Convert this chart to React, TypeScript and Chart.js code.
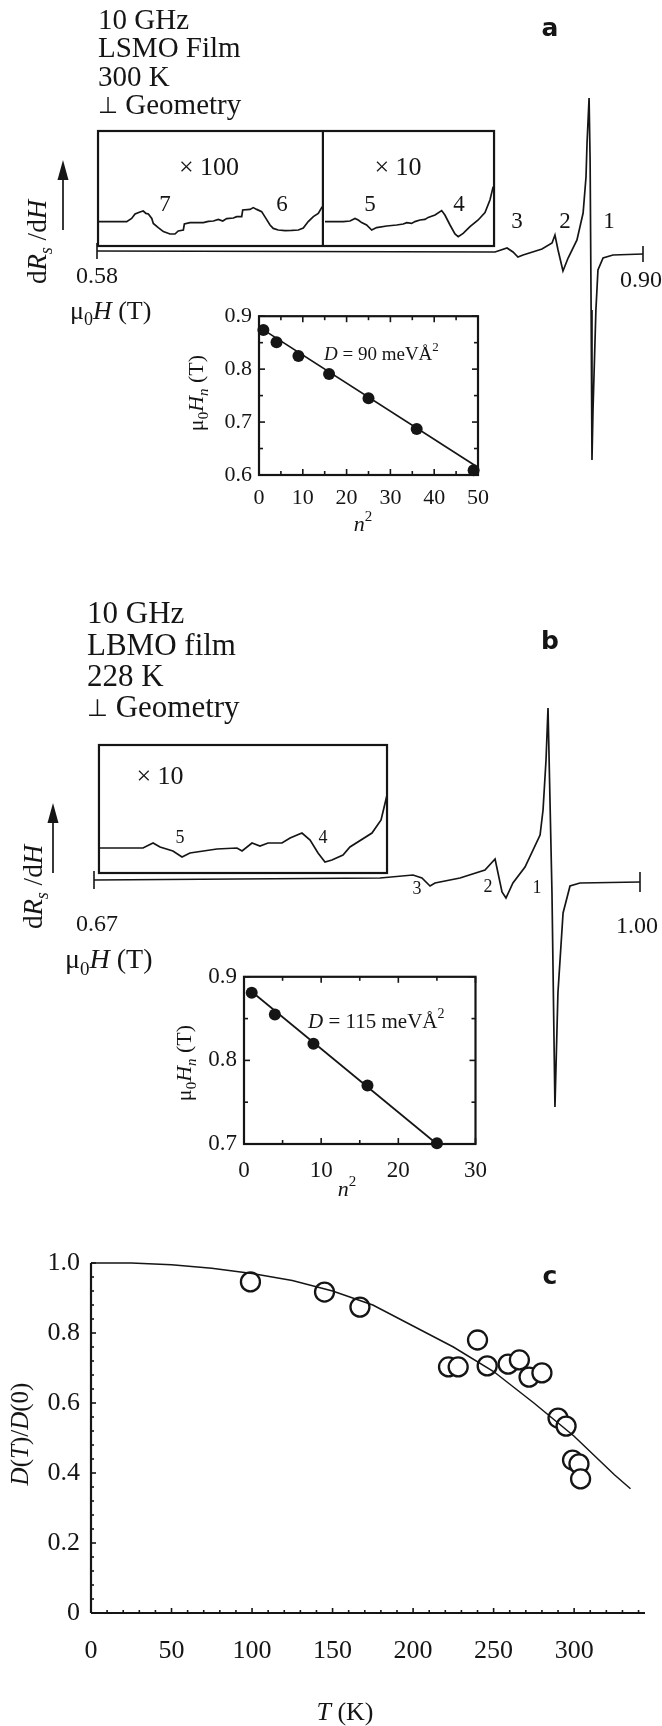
import React, { useEffect, useRef } from 'react';
import { Chart, registerables } from 'chart.js';

Chart.register(...registerables);

// ---------------- Panel a: 10 GHz, LSMO film, 300 K ----------------
const aField = [0.58, 0.8133, 0.8203, 0.8238, 0.8267, 0.8297, 0.8408, 0.8467, 0.8484, 0.8502, 0.8531, 0.8561, 0.8613, 0.8649, 0.8666, 0.8672, 0.8684, 0.869, 0.8696, 0.8701, 0.8707, 0.8724, 0.8736, 0.8766, 0.8824, 0.9];
const aSignal = [0, -0.5, 1.5, -0.5, -3, -2, 1, 4, 8, 0.5, -10, -3.5, 5.5, 19, 37, 54, 76.5, 45.5, -29.5, -104.5, -79.5, -29.5, -9.5, -3.5, -2, -1.5];
const aX100Field = [0.5802, 0.5974, 0.6003, 0.6023, 0.6052, 0.6071, 0.6087, 0.6101, 0.6121, 0.613, 0.6159, 0.6189, 0.6228, 0.6257, 0.6276, 0.6306, 0.6312, 0.6345, 0.6423, 0.6452, 0.6482, 0.6511, 0.6537, 0.656, 0.6599, 0.6619, 0.6648, 0.6654, 0.6697, 0.6716, 0.6736, 0.6765, 0.679, 0.6814, 0.6833, 0.6862, 0.6902, 0.6941, 0.698, 0.7009, 0.7038, 0.7068, 0.7097, 0.712];
const aX100Signal = [14.7, 14.7, 16.3, 18.5, 19.5, 20, 18.8, 18.5, 16.3, 13.8, 11.7, 9.7, 8.5, 8.5, 10, 10.5, 13.5, 14.2, 14.2, 14.8, 15, 15.8, 15, 16.2, 16.5, 17.2, 17.2, 20.5, 20.8, 21.7, 20.8, 19.7, 16.3, 13, 11.3, 10.5, 10.2, 10.3, 10.5, 11.5, 14.7, 17.2, 18.8, 22.2];
const aX10Field = [0.7136, 0.7243, 0.7283, 0.7312, 0.7331, 0.7351, 0.738, 0.741, 0.7439, 0.7498, 0.7556, 0.7595, 0.7615, 0.7644, 0.7663, 0.7693, 0.7722, 0.7741, 0.7781, 0.782, 0.7839, 0.7869, 0.7898, 0.7917, 0.7946, 0.7986, 0.8034, 0.8074, 0.8103, 0.8122];
const aX10Signal = [14.7, 14.7, 15, 16.3, 15.5, 14.2, 13, 10.5, 11.7, 12.5, 13, 13.5, 14.2, 13.8, 14.7, 15.5, 15.8, 16.8, 18, 20.2, 18, 13, 8.5, 7.2, 8.8, 12.2, 15.5, 19.2, 25.5, 32.2];
const aBox = { from: 0.5806, split: 0.7124, to: 0.8127, low: 2.5, high: 60 };

const aN2 = [1, 4, 9, 16, 25, 36, 49];
const aHn = [0.874, 0.851, 0.825, 0.791, 0.745, 0.687, 0.609];
const aFitN2 = [0.5, 49.5];
const aFitHn = [0.877, 0.617];
const aXTicks = [0, 10, 20, 30, 40, 50];
const aYTicks = [0.6, 0.7, 0.8, 0.9];

// ---------------- Panel b: 10 GHz, LBMO film, 228 K ----------------
const bField = [0.67, 0.8429, 0.8628, 0.8682, 0.8731, 0.8761, 0.8912, 0.9063, 0.9124, 0.9166, 0.919, 0.9232, 0.9305, 0.9396, 0.9414, 0.9432, 0.9444, 0.9468, 0.9486, 0.9504, 0.9535, 0.9577, 0.9637, 1.0];
const bSignal = [0, 1, 2.5, 1, -3, -1.5, 1, 5, 10.5, -6, -9, -1.5, 6.5, 22.5, 35, 60, 86, -6.5, -113.5, -56.5, -16.5, -3, -1.5, -1];
const bX10Field = [0.673, 0.6996, 0.7057, 0.7099, 0.7177, 0.7232, 0.728, 0.7443, 0.7564, 0.7595, 0.7655, 0.7703, 0.7752, 0.7836, 0.7885, 0.7957, 0.8006, 0.8054, 0.8096, 0.8138, 0.8205, 0.8247, 0.838, 0.8435, 0.8471];
const bX10Signal = [16, 16, 18.5, 16.5, 14.5, 11.5, 13.5, 15.5, 16, 14.5, 18.5, 17, 18.5, 18.5, 21, 23.5, 20, 13.5, 9, 10, 12.5, 16.5, 23.5, 30, 42.5];
const bBox = { from: 0.673, to: 0.8471, low: 3.5, high: 67.5 };

const bN2 = [1, 4, 9, 16, 25];
const bHn = [0.881, 0.855, 0.82, 0.77, 0.701];
const bFitN2 = [0.5, 25];
const bFitHn = [0.886, 0.7];
const bXTicks = [0, 10, 20, 30];
const bYTicks = [0.7, 0.8, 0.9];

// ---------------- Panel c: D(T)/D(0) ----------------
const cTemp = [99, 145, 167, 222, 228, 240, 246, 259, 266, 272, 280, 290, 295, 299, 303, 304];
const cRatio = [0.946, 0.917, 0.874, 0.703, 0.703, 0.78, 0.706, 0.711, 0.723, 0.674, 0.686, 0.557, 0.534, 0.437, 0.426, 0.383];
const cCurveT = [0, 25, 50, 75, 100, 125, 150, 175, 200, 225, 250, 275, 300, 325, 335];
const cCurveD = [1.0, 1.0, 0.995, 0.985, 0.97, 0.95, 0.92, 0.88, 0.82, 0.76, 0.69, 0.6, 0.505, 0.395, 0.355];
const cXTicks = [0, 50, 100, 150, 200, 250, 300];
const cYTicks = [0, 0.2, 0.4, 0.6, 0.8, 1.0];

// ---------------- helpers ----------------
const SERIF = '"Liberation Serif", "Times New Roman", "DejaVu Serif", serif';
const SYMBOL = '"DejaVu Sans", "DejaVu Serif", sans-serif';
const INK = '#151515';

type Part = { t: string; it?: boolean; sub?: boolean; sup?: boolean; k?: number; sym?: boolean };

const zip = (xs: number[], ys: number[]) => xs.map((x, i) => ({ x, y: ys[i] }));

function fontOf(p: Part, size: number) {
  let s = p.sub || p.sup ? size * 0.68 : size;
  if (p.k) s *= p.k;
  return `${p.it ? 'italic ' : ''}${Math.round(s)}px ${p.sym ? SYMBOL : SERIF}`;
}

function rich(ctx: CanvasRenderingContext2D, parts: Part[], x: number, y: number, size: number, align: 'left' | 'center' | 'right' = 'left', rot = 0) {
  ctx.save();
  ctx.translate(x, y);
  if (rot) ctx.rotate(rot);
  const widths = parts.map((p) => {
    ctx.font = fontOf(p, size);
    return ctx.measureText(p.t).width;
  });
  const total = widths.reduce((a, b) => a + b, 0);
  let cx = align === 'left' ? 0 : align === 'center' ? -total / 2 : -total;
  ctx.textBaseline = 'middle';
  ctx.textAlign = 'left';
  ctx.fillStyle = INK;
  parts.forEach((p, i) => {
    ctx.font = fontOf(p, size);
    const dy = p.sub ? size * 0.32 : p.sup ? -size * 0.38 : p.sym ? size * 0.04 : 0;
    ctx.fillText(p.t, cx, dy);
    cx += widths[i];
  });
  ctx.restore();
}

function text(ctx: CanvasRenderingContext2D, s: string, x: number, y: number, size: number, align: 'left' | 'center' | 'right' = 'left') {
  rich(ctx, [{ t: s }], x, y, size, align);
}

function geometry(ctx: CanvasRenderingContext2D, x: number, y: number, size: number) {
  rich(ctx, [{ t: '⊥', sym: true, k: 0.78 }, { t: ' Geometry' }], x, y, size, 'left');
}

function bold(ctx: CanvasRenderingContext2D, s: string, x: number, y: number) {
  ctx.save();
  ctx.font = 'bold 25px "DejaVu Sans", sans-serif';
  ctx.fillStyle = INK;
  ctx.textAlign = 'center';
  ctx.textBaseline = 'middle';
  ctx.fillText(s, x, y);
  ctx.restore();
}

function seg(ctx: CanvasRenderingContext2D, x0: number, y0: number, x1: number, y1: number) {
  ctx.beginPath();
  ctx.moveTo(x0, y0);
  ctx.lineTo(x1, y1);
  ctx.stroke();
}

function arrow(ctx: CanvasRenderingContext2D, x: number, yBottom: number, yTip: number) {
  ctx.save();
  ctx.strokeStyle = INK;
  ctx.fillStyle = INK;
  ctx.lineWidth = 1.7;
  seg(ctx, x, yBottom, x, yTip + 12);
  ctx.beginPath();
  ctx.moveTo(x, yTip);
  ctx.lineTo(x - 5.5, yTip + 20);
  ctx.lineTo(x + 5.5, yTip + 20);
  ctx.closePath();
  ctx.fill();
  ctx.restore();
}

const dRdH: Part[] = [{ t: 'd' }, { t: 'R', it: true }, { t: 's', it: true, sub: true }, { t: ' /d' }, { t: 'H', it: true }];
const mu0H: Part[] = [{ t: 'μ' }, { t: '0', sub: true }, { t: 'H', it: true }, { t: ' (T)' }];
const mu0Hn: Part[] = [{ t: 'μ' }, { t: '0', sub: true }, { t: 'H', it: true }, { t: 'n', it: true, sub: true }, { t: ' (T)' }];
const n2: Part[] = [{ t: 'n', it: true }, { t: '2', sup: true }];

function traceDataset(data: { x: number; y: number }[], width = 1.7) {
  return { data, showLine: true, borderColor: INK, borderWidth: width, pointRadius: 0, tension: 0, clip: false } as any;
}

function baseOptions(pad: any, scales: any) {
  return {
    animation: false,
    responsive: false,
    devicePixelRatio: 1,
    events: [],
    layout: { padding: pad },
    plugins: { legend: { display: false }, tooltip: { enabled: false }, title: { display: false } },
    scales,
  } as any;
}

// ---------------- chart configs ----------------
function mainAConfig() {
  const deco = {
    id: 'decoA',
    afterDraw(chart: any) {
      const ctx: CanvasRenderingContext2D = chart.ctx;
      const xs = chart.scales.x, ys = chart.scales.y;
      ctx.save();
      ctx.strokeStyle = INK;
      ctx.lineWidth = 2.2;
      const x0 = xs.getPixelForValue(aBox.from), x1 = xs.getPixelForValue(aBox.to), xm = xs.getPixelForValue(aBox.split);
      const y0 = ys.getPixelForValue(aBox.high), y1 = ys.getPixelForValue(aBox.low);
      ctx.strokeRect(x0, y0, x1 - x0, y1 - y0);
      seg(ctx, xm, y0, xm, y1);
      const yb = ys.getPixelForValue(0);
      ctx.lineWidth = 1.6;
      seg(ctx, xs.getPixelForValue(0.58), yb - 8, xs.getPixelForValue(0.58), yb + 8);
      const xe = xs.getPixelForValue(0.9), ye = ys.getPixelForValue(-1.5);
      seg(ctx, xe, ye - 8, xe, ye + 8);
      ctx.restore();

      text(ctx, '10 GHz', 98, 21, 29);
      text(ctx, 'LSMO Film', 98, 49, 29);
      text(ctx, '300 K', 98, 78, 29);
      geometry(ctx, 98, 106, 29);
      bold(ctx, 'a', 550, 29);
      text(ctx, '× 100', 209, 168, 26, 'center');
      text(ctx, '× 10', 398, 168, 26, 'center');
      text(ctx, '7', 165, 205, 23, 'center');
      text(ctx, '6', 282, 205, 23, 'center');
      text(ctx, '5', 370, 205, 23, 'center');
      text(ctx, '4', 459, 205, 23, 'center');
      text(ctx, '3', 517, 222, 23, 'center');
      text(ctx, '2', 565, 222, 23, 'center');
      text(ctx, '1', 609, 222, 23, 'center');
      text(ctx, '0.58', 97, 277, 24, 'center');
      text(ctx, '0.90', 620, 281, 24, 'left');
      rich(ctx, mu0H, 70, 312, 26, 'left');
      rich(ctx, dRdH, 39, 242, 27, 'center', -Math.PI / 2);
      arrow(ctx, 63, 230, 160);
    },
  };
  return {
    type: 'scatter',
    data: {
      datasets: [
        traceDataset(zip(aField, aSignal)),
        traceDataset(zip(aX100Field, aX100Signal)),
        traceDataset(zip(aX10Field, aX10Signal)),
      ],
    },
    options: baseOptions({ left: 97, right: 19, top: 91, bottom: 129 }, {
      x: { type: 'linear', display: false, min: 0.58, max: 0.9 },
      y: { type: 'linear', display: false, min: -110, max: 80 },
    }),
    plugins: [deco],
  };
}

function mainBConfig() {
  const off = 590;
  const deco = {
    id: 'decoB',
    afterDraw(chart: any) {
      const ctx: CanvasRenderingContext2D = chart.ctx;
      const xs = chart.scales.x, ys = chart.scales.y;
      ctx.save();
      ctx.strokeStyle = INK;
      ctx.lineWidth = 2.2;
      const x0 = xs.getPixelForValue(bBox.from), x1 = xs.getPixelForValue(bBox.to);
      const y0 = ys.getPixelForValue(bBox.high), y1 = ys.getPixelForValue(bBox.low);
      ctx.strokeRect(x0, y0, x1 - x0, y1 - y0);
      ctx.lineWidth = 1.6;
      const yb = ys.getPixelForValue(0);
      seg(ctx, xs.getPixelForValue(0.67), yb - 9, xs.getPixelForValue(0.67), yb + 9);
      const xe = xs.getPixelForValue(1.0), ye = ys.getPixelForValue(-1);
      seg(ctx, xe, ye - 10, xe, ye + 10);
      ctx.restore();

      text(ctx, '10 GHz', 87, 615 - off, 31);
      text(ctx, 'LBMO film', 87, 647 - off, 31);
      text(ctx, '228 K', 87, 678 - off, 31);
      geometry(ctx, 87, 709 - off, 31);
      bold(ctx, 'b', 550, 642 - off);
      text(ctx, '× 10', 160, 777 - off, 26, 'center');
      text(ctx, '5', 180, 838 - off, 18, 'center');
      text(ctx, '4', 323, 838 - off, 18, 'center');
      text(ctx, '3', 417, 889 - off, 18, 'center');
      text(ctx, '2', 488, 887 - off, 18, 'center');
      text(ctx, '1', 537, 888 - off, 18, 'center');
      text(ctx, '0.67', 97, 925 - off, 24, 'center');
      text(ctx, '1.00', 637, 927 - off, 24, 'center');
      rich(ctx, mu0H, 65, 961 - off, 28, 'left');
      rich(ctx, dRdH, 35, 887 - off, 27, 'center', -Math.PI / 2);
      arrow(ctx, 53, 873 - off, 803 - off);
    },
  };
  return {
    type: 'scatter',
    data: {
      datasets: [traceDataset(zip(bField, bSignal)), traceDataset(zip(bX10Field, bX10Signal))],
    },
    options: baseOptions({ left: 94, right: 22, top: 110, bottom: 14 }, {
      x: { type: 'linear', display: false, min: 0.67, max: 1.0 },
      y: { type: 'linear', display: false, min: -118, max: 90 },
    }),
    plugins: [deco],
  };
}

function drawFrameTicks(ctx: CanvasRenderingContext2D, chart: any, xStep: number, yStep: number, xMajor: number, yMajor: number, all: boolean, majLen: number, minLen: number) {
  const { left, right, top, bottom } = chart.chartArea;
  const xs = chart.scales.x, ys = chart.scales.y;
  ctx.save();
  ctx.strokeStyle = INK;
  ctx.lineWidth = 1.6;
  const isMajor = (v: number, m: number) => Math.abs(v / m - Math.round(v / m)) < 1e-6;
  const nx = Math.round((xs.max - xs.min) / xStep);
  for (let i = 0; i <= nx; i++) {
    const v = xs.min + i * xStep;
    const px = xs.getPixelForValue(v);
    const L = isMajor(v, xMajor) ? majLen : minLen;
    seg(ctx, px, bottom, px, bottom - L);
    if (all) seg(ctx, px, top, px, top + L);
  }
  const ny = Math.round((ys.max - ys.min) / yStep);
  for (let i = 0; i <= ny; i++) {
    const v = ys.min + i * yStep;
    const py = ys.getPixelForValue(v);
    const L = isMajor(v, yMajor) ? majLen : minLen;
    seg(ctx, left, py, left + L, py);
    if (all) seg(ctx, right, py, right - L, py);
  }
  ctx.restore();
}

function insetConfig(p: {
  n2v: number[]; hn: number[]; fitX: number[]; fitY: number[];
  xMin: number; xMax: number; yMin: number; yMax: number; xTicks: number[]; yTicks: number[];
  yWidth: number; xHeight: number; padTop: number; padRight: number; font: number; xPad: number;
  dLabel: string; dSize: number; dPos: [number, number]; n2Pos: [number, number]; yTitlePos: [number, number];
}) {
  const deco = {
    id: 'decoInset',
    afterDraw(chart: any) {
      const ctx: CanvasRenderingContext2D = chart.ctx;
      const { left, right, top, bottom } = chart.chartArea;
      ctx.save();
      ctx.strokeStyle = INK;
      ctx.lineWidth = 2.2;
      ctx.strokeRect(left, top, right - left, bottom - top);
      ctx.restore();
      drawFrameTicks(ctx, chart, 5, 0.05, 10, 0.1, true, 6, 4);
      rich(ctx, n2, p.n2Pos[0], p.n2Pos[1], 22, 'center');
      rich(ctx, mu0Hn, p.yTitlePos[0], p.yTitlePos[1], 22, 'center', -Math.PI / 2);
      rich(ctx, [{ t: 'D', it: true }, { t: p.dLabel }, { t: '2', sup: true }], p.dPos[0], p.dPos[1], p.dSize, 'left');
    },
  };
  const tickFont = { family: SERIF, size: p.font };
  return {
    type: 'scatter',
    data: {
      datasets: [
        { data: zip(p.fitX, p.fitY), showLine: true, borderColor: INK, borderWidth: 1.7, pointRadius: 0, clip: false },
        { data: zip(p.n2v, p.hn), showLine: false, pointRadius: 6, pointBackgroundColor: INK, pointBorderColor: INK, pointBorderWidth: 0, clip: false },
      ],
    },
    options: baseOptions({ left: 0, right: p.padRight, top: p.padTop, bottom: 0 }, {
      x: {
        type: 'linear', min: p.xMin, max: p.xMax,
        grid: { display: false, drawTicks: false }, border: { display: false },
        ticks: { font: tickFont, color: INK, padding: p.xPad, callback: (v: any) => String(Math.round(Number(v))) },
        afterBuildTicks: (s: any) => { s.ticks = p.xTicks.map((v) => ({ value: v })); },
        afterFit: (s: any) => { s.height = p.xHeight; },
      },
      y: {
        type: 'linear', min: p.yMin, max: p.yMax,
        grid: { display: false, drawTicks: false }, border: { display: false },
        ticks: { font: tickFont, color: INK, padding: 7, callback: (v: any) => Number(v).toFixed(1) },
        afterBuildTicks: (s: any) => { s.ticks = p.yTicks.map((v) => ({ value: v })); },
        afterFit: (s: any) => { s.width = p.yWidth; },
      },
    }),
    plugins: [deco],
  };
}

function panelCConfig() {
  const off = 1230;
  const deco = {
    id: 'decoC',
    afterDraw(chart: any) {
      const ctx: CanvasRenderingContext2D = chart.ctx;
      const { left, right, top, bottom } = chart.chartArea;
      ctx.save();
      ctx.strokeStyle = INK;
      ctx.lineWidth = 2.2;
      seg(ctx, left, top, left, bottom);
      seg(ctx, left, bottom, right, bottom);
      ctx.restore();
      drawFrameTicks(ctx, chart, 10, 0.04, 50, 0.2, false, 5, 3);
      rich(ctx, [{ t: 'D', it: true }, { t: '(' }, { t: 'T', it: true }, { t: ')/' }, { t: 'D', it: true }, { t: '(0)' }], 21, 1434 - off, 25, 'center', -Math.PI / 2);
      rich(ctx, [{ t: 'T', it: true }, { t: ' (K)' }], 345, 1713 - off, 26, 'center');
      bold(ctx, 'c', 550, 1277 - off);
    },
  };
  const tickFont = { family: SERIF, size: 26 };
  return {
    type: 'scatter',
    data: {
      datasets: [
        { data: zip(cCurveT, cCurveD), showLine: true, borderColor: INK, borderWidth: 1.5, pointRadius: 0, clip: false },
        { data: zip(cTemp, cRatio), showLine: false, pointRadius: 9.5, pointBackgroundColor: '#ffffff', pointBorderColor: INK, pointBorderWidth: 2.3, clip: false },
      ],
    },
    options: baseOptions({ left: 0, right: 17, top: 33, bottom: 0 }, {
      x: {
        type: 'linear', min: 0, max: 344,
        grid: { display: false, drawTicks: false }, border: { display: false },
        ticks: { font: tickFont, color: INK, padding: 23, callback: (v: any) => String(Math.round(Number(v))) },
        afterBuildTicks: (s: any) => { s.ticks = cXTicks.map((v) => ({ value: v })); },
        afterFit: (s: any) => { s.height = 113; },
      },
      y: {
        type: 'linear', min: 0, max: 1,
        grid: { display: false, drawTicks: false }, border: { display: false },
        ticks: { font: tickFont, color: INK, padding: 11, callback: (v: any) => (Number(v) === 0 ? '0' : Number(v).toFixed(1)) },
        afterBuildTicks: (s: any) => { s.ticks = cYTicks.map((v) => ({ value: v })); },
        afterFit: (s: any) => { s.width = 91; },
      },
    }),
    plugins: [deco],
  };
}

// ---------------- components ----------------
function ChartBox({ left, top, width, height, make }: { left: number; top: number; width: number; height: number; make: () => any }) {
  const ref = useRef<HTMLCanvasElement>(null);
  useEffect(() => {
    const canvas = ref.current!;
    const chart = new Chart(canvas, make());
    return () => chart.destroy();
  }, []);
  return (
    <canvas
      ref={ref}
      width={width}
      height={height}
      style={{ position: 'absolute', left, top, width, height }}
    />
  );
}

export default function App() {
  return (
    <div style={{ position: 'absolute', left: 0, top: 0, width: 662, height: 1726, background: '#fff', overflow: 'hidden' }}>
      <ChartBox left={0} top={0} width={662} height={600} make={mainAConfig} />
      <ChartBox left={0} top={590} width={662} height={540} make={mainBConfig} />
      <ChartBox
        left={150} top={296} width={350} height={250}
        make={() => insetConfig({
          n2v: aN2, hn: aHn, fitX: aFitN2, fitY: aFitHn,
          xMin: 0, xMax: 50, yMin: 0.6, yMax: 0.9, xTicks: aXTicks, yTicks: aYTicks,
          yWidth: 109, xHeight: 71, padTop: 20, padRight: 22, font: 22, xPad: 10,
          dLabel: ' = 90 meVÅ', dSize: 19, dPos: [174, 59], n2Pos: [213, 229], yTitlePos: [47, 97],
        })}
      />
      <ChartBox
        left={150} top={956} width={350} height={260}
        make={() => insetConfig({
          n2v: bN2, hn: bHn, fitX: bFitN2, fitY: bFitHn,
          xMin: 0, xMax: 30, yMin: 0.7, yMax: 0.9, xTicks: bXTicks, yTicks: bYTicks,
          yWidth: 94, xHeight: 72, padTop: 20, padRight: 24, font: 23, xPad: 13,
          dLabel: ' = 115 meVÅ', dSize: 21, dPos: [158, 66], n2Pos: [197, 234], yTitlePos: [35, 107],
        })}
      />
      <ChartBox left={0} top={1230} width={662} height={496} make={panelCConfig} />
    </div>
  );
}
